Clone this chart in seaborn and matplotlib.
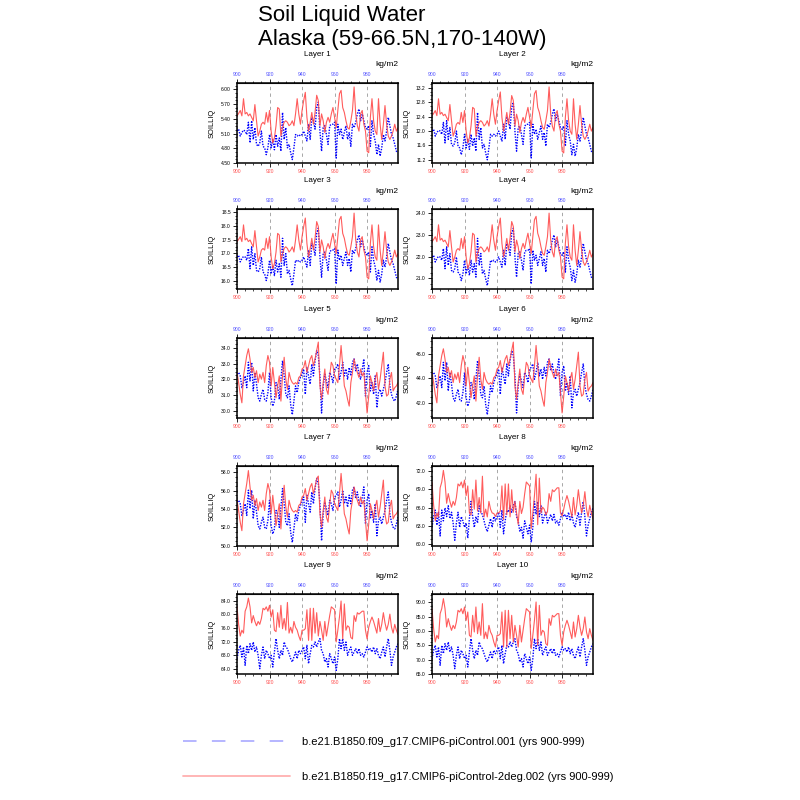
import numpy as np
import pandas as pd
import matplotlib
matplotlib.use('Agg')
import matplotlib.pyplot as plt
import seaborn as sns
from matplotlib.ticker import FixedLocator, MultipleLocator, AutoMinorLocator, FormatStrFormatter
from matplotlib.lines import Line2D

# years 900-999
years = list(range(900, 1000))

# values (kg/m2)
layer1_blue = [5.15, 5.19, 5.05, 5.12, 5.17, 5.15, 5.08, 5.33, 4.91, 5.36,
               4.98, 5.22, 4.88, 4.84, 4.91, 5.15, 4.84, 4.81, 4.67, 4.81,
               5.08, 4.81, 4.98, 4.77, 5.08, 4.84, 5.01, 4.74, 5.53, 4.98,
               5.22, 4.81, 4.88, 4.71, 4.57, 4.81, 5.08, 5.05, 5.08, 5.05,
               5.08, 5.15, 5.05, 4.95, 5.29, 4.98, 5.43, 5.36, 5.19, 5.63,
               5.74, 5.15, 4.74, 5.22, 5.26, 5.08, 4.88, 5.26, 5.29, 5.29,
               5.33, 4.60, 5.29, 5.08, 5.19, 4.98, 5.12, 5.26, 4.98, 5.12,
               4.84, 5.29, 5.22, 5.33, 5.50, 5.60, 5.36, 5.50, 5.36, 5.22,
               5.19, 5.26, 4.84, 5.36, 5.08, 4.95, 4.67, 4.88, 4.64, 4.81,
               5.08, 4.95, 5.15, 5.43, 5.26, 5.08, 5.01, 4.88, 4.74, 4.71]
layer1_red = [5.46, 5.51, 5.57, 5.46, 5.81, 5.50, 5.53, 5.46, 5.50, 5.43,
              5.36, 5.69, 5.36, 5.05, 5.15, 5.29, 5.33, 5.29, 5.53, 5.33,
              5.57, 5.15, 4.91, 5.01, 5.26, 5.63, 5.60, 5.05, 5.22, 5.33,
              5.36, 5.33, 5.26, 5.29, 5.36, 5.26, 5.50, 5.81, 5.50, 5.29,
              5.57, 5.77, 5.94, 5.43, 5.15, 5.33, 5.53, 5.29, 5.53, 5.88,
              5.77, 5.26, 5.50, 5.36, 5.12, 5.33, 5.43, 5.33, 5.50, 5.63,
              5.43, 5.22, 5.57, 5.91, 5.98, 5.63, 5.53, 5.36, 5.22, 5.19,
              5.36, 5.57, 6.05, 5.50, 5.26, 5.15, 5.50, 5.57, 5.29, 5.15,
              4.74, 4.71, 5.43, 5.81, 5.36, 5.15, 5.08, 5.81, 5.29, 4.98,
              5.29, 5.67, 5.29, 5.05, 4.98, 5.05, 5.15, 5.29, 5.15, 5.22]

layer2_blue = [12.00, 12.05, 11.86, 11.96, 12.02, 12.00, 11.91, 12.24, 11.67, 12.29,
               11.77, 12.10, 11.63, 11.58, 11.67, 12.00, 11.58, 11.53, 11.34, 11.53,
               11.91, 11.53, 11.77, 11.49, 11.91, 11.58, 11.81, 11.44, 12.52, 11.77,
               12.10, 11.53, 11.63, 11.39, 11.20, 11.53, 11.91, 11.86, 11.91, 11.86,
               11.91, 12.00, 11.86, 11.72, 12.19, 11.77, 12.38, 12.29, 12.05, 12.66,
               12.80, 12.00, 11.44, 12.10, 12.14, 11.91, 11.63, 12.14, 12.19, 12.19,
               12.24, 11.25, 12.19, 11.91, 12.05, 11.77, 11.96, 12.14, 11.77, 11.96,
               11.58, 12.19, 12.10, 12.24, 12.47, 12.62, 12.29, 12.47, 12.29, 12.10,
               12.05, 12.14, 11.58, 12.29, 11.91, 11.72, 11.34, 11.63, 11.30, 11.53,
               11.91, 11.72, 12.00, 12.38, 12.14, 11.91, 11.81, 11.63, 11.44, 11.39]
layer2_red = [12.43, 12.49, 12.57, 12.43, 12.90, 12.47, 12.52, 12.43, 12.47, 12.38,
              12.29, 12.74, 12.29, 11.86, 12.00, 12.19, 12.24, 12.19, 12.52, 12.24,
              12.57, 12.00, 11.67, 11.81, 12.14, 12.66, 12.62, 11.86, 12.10, 12.24,
              12.29, 12.24, 12.14, 12.19, 12.29, 12.14, 12.47, 12.90, 12.47, 12.19,
              12.57, 12.85, 13.09, 12.38, 12.00, 12.24, 12.52, 12.19, 12.52, 12.99,
              12.85, 12.14, 12.47, 12.29, 11.96, 12.24, 12.38, 12.24, 12.47, 12.66,
              12.38, 12.10, 12.57, 13.04, 13.13, 12.66, 12.52, 12.29, 12.10, 12.05,
              12.29, 12.57, 13.23, 12.47, 12.14, 12.00, 12.47, 12.57, 12.19, 12.00,
              11.44, 11.39, 12.38, 12.90, 12.29, 12.00, 11.91, 12.90, 12.19, 11.77,
              12.19, 12.71, 12.19, 11.86, 11.77, 11.86, 12.00, 12.19, 12.00, 12.10]

layer3_blue = [16.87, 16.93, 16.69, 16.81, 16.89, 16.87, 16.75, 17.18, 16.44, 17.24,
               16.56, 16.99, 16.38, 16.32, 16.44, 16.87, 16.32, 16.25, 16.01, 16.25,
               16.75, 16.25, 16.56, 16.19, 16.75, 16.32, 16.62, 16.13, 17.55, 16.56,
               16.99, 16.25, 16.38, 16.07, 15.82, 16.25, 16.75, 16.69, 16.75, 16.69,
               16.75, 16.87, 16.69, 16.50, 17.12, 16.56, 17.36, 17.24, 16.93, 17.73,
               17.92, 16.87, 16.13, 16.99, 17.05, 16.75, 16.38, 17.05, 17.12, 17.12,
               17.18, 15.88, 17.12, 16.75, 16.93, 16.56, 16.81, 17.05, 16.56, 16.81,
               16.32, 17.12, 16.99, 17.18, 17.49, 17.67, 17.24, 17.49, 17.24, 16.99,
               16.93, 17.05, 16.32, 17.24, 16.75, 16.50, 16.01, 16.38, 15.95, 16.25,
               16.75, 16.50, 16.87, 17.36, 17.05, 16.75, 16.62, 16.38, 16.13, 16.07]
layer3_red = [17.43, 17.51, 17.61, 17.43, 18.04, 17.49, 17.55, 17.43, 17.49, 17.36,
              17.24, 17.83, 17.24, 16.69, 16.87, 17.12, 17.18, 17.12, 17.55, 17.18,
              17.61, 16.87, 16.44, 16.62, 17.05, 17.73, 17.67, 16.69, 16.99, 17.18,
              17.24, 17.18, 17.05, 17.12, 17.24, 17.05, 17.49, 18.04, 17.49, 17.12,
              17.61, 17.98, 18.29, 17.36, 16.87, 17.18, 17.55, 17.12, 17.55, 18.16,
              17.98, 17.05, 17.49, 17.24, 16.81, 17.18, 17.36, 17.18, 17.49, 17.73,
              17.36, 16.99, 17.61, 18.23, 18.35, 17.73, 17.55, 17.24, 16.99, 16.93,
              17.24, 17.61, 18.47, 17.49, 17.05, 16.87, 17.49, 17.61, 17.12, 16.87,
              16.13, 16.07, 17.36, 18.04, 17.24, 16.87, 16.75, 18.04, 17.12, 16.56,
              17.12, 17.79, 17.12, 16.69, 16.56, 16.69, 16.87, 17.12, 16.87, 16.99]

layer4_blue = [21.98, 22.06, 21.75, 21.91, 22.01, 21.98, 21.83, 22.37, 21.44, 22.45,
               21.59, 22.14, 21.36, 21.28, 21.44, 21.98, 21.28, 21.20, 20.89, 21.20,
               21.83, 21.20, 21.59, 21.13, 21.83, 21.28, 21.67, 21.05, 22.84, 21.59,
               22.14, 21.20, 21.36, 20.97, 20.66, 21.20, 21.83, 21.75, 21.83, 21.75,
               21.83, 21.98, 21.75, 21.51, 22.29, 21.59, 22.61, 22.45, 22.06, 23.08,
               23.31, 21.98, 21.05, 22.14, 22.22, 21.83, 21.36, 22.22, 22.29, 22.29,
               22.37, 20.73, 22.29, 21.83, 22.06, 21.59, 21.91, 22.22, 21.59, 21.91,
               21.28, 22.29, 22.14, 22.37, 22.76, 23.00, 22.45, 22.76, 22.45, 22.14,
               22.06, 22.22, 21.28, 22.45, 21.83, 21.51, 20.89, 21.36, 20.81, 21.20,
               21.83, 21.51, 21.98, 22.61, 22.22, 21.83, 21.67, 21.36, 21.05, 20.97]
layer4_red = [22.69, 22.79, 22.92, 22.69, 23.47, 22.76, 22.84, 22.69, 22.76, 22.61,
              22.45, 23.20, 22.45, 21.75, 21.98, 22.29, 22.37, 22.29, 22.84, 22.37,
              22.92, 21.98, 21.44, 21.67, 22.22, 23.08, 23.00, 21.75, 22.14, 22.37,
              22.45, 22.37, 22.22, 22.29, 22.45, 22.22, 22.76, 23.47, 22.76, 22.29,
              22.92, 23.39, 23.78, 22.61, 21.98, 22.37, 22.84, 22.29, 22.84, 23.62,
              23.39, 22.22, 22.76, 22.45, 21.91, 22.37, 22.61, 22.37, 22.76, 23.08,
              22.61, 22.14, 22.92, 23.70, 23.86, 23.08, 22.84, 22.45, 22.14, 22.06,
              22.45, 22.92, 24.01, 22.76, 22.22, 21.98, 22.76, 22.92, 22.29, 21.98,
              21.05, 20.97, 22.61, 23.47, 22.45, 21.98, 21.83, 23.47, 22.29, 21.59,
              22.29, 23.15, 22.29, 21.75, 21.59, 21.75, 21.98, 22.29, 21.98, 22.14]

layer5_blue = [32.33, 32.44, 32.22, 31.47, 31.79, 32.22, 31.47, 33.09, 31.90, 33.09,
               31.26, 32.44, 31.69, 30.82, 30.61, 31.04, 31.36, 30.72, 30.61, 31.15,
               32.44, 30.82, 30.29, 30.61, 31.79, 31.58, 30.72, 32.01, 33.19, 32.22,
               31.04, 30.82, 31.58, 30.39, 29.74, 30.61, 31.58, 31.15, 31.79, 32.12,
               32.33, 32.66, 31.04, 32.76, 32.22, 31.69, 32.98, 32.22, 33.19, 33.84,
               33.52, 32.22, 29.85, 31.58, 32.33, 31.90, 31.47, 32.44, 32.22, 31.79,
               32.66, 32.76, 32.98, 32.01, 32.44, 33.09, 32.22, 32.66, 32.01, 32.76,
               32.22, 33.09, 33.30, 32.55, 32.98, 32.33, 32.01, 32.66, 33.30, 30.93,
               32.44, 32.87, 31.26, 31.79, 31.04, 32.22, 30.18, 31.15, 31.36, 30.93,
               31.36, 31.79, 32.44, 32.98, 31.58, 31.04, 30.72, 30.61, 30.93, 31.36]
layer5_red = [32.44, 31.79, 31.04, 30.50, 32.22, 32.87, 33.52, 33.95, 33.30, 32.44,
              32.76, 32.12, 32.55, 31.79, 32.33, 32.01, 32.44, 31.79, 32.87, 33.52,
              33.09, 31.58, 32.76, 31.79, 30.82, 31.58, 32.22, 30.61, 32.22, 33.41,
              32.01, 31.36, 32.44, 32.01, 31.79, 31.69, 31.79, 31.69, 32.12, 32.22,
              32.66, 32.76, 33.19, 32.44, 32.87, 33.30, 33.52, 32.87, 33.30, 33.84,
              34.38, 31.58, 30.72, 31.79, 32.66, 31.36, 31.04, 32.22, 33.09, 32.87,
              32.22, 32.01, 31.79, 32.87, 34.16, 32.87, 31.58, 31.26, 30.72, 30.29,
              31.79, 32.44, 33.30, 32.76, 32.44, 32.12, 32.66, 32.22, 32.44, 31.15,
              29.85, 30.93, 32.22, 31.79, 31.26, 32.01, 32.44, 31.36, 32.01, 32.87,
              33.73, 31.58, 30.93, 31.04, 32.01, 32.44, 31.26, 31.47, 31.58, 31.79]

layer6_blue = [44.36, 44.49, 44.21, 43.27, 43.67, 44.21, 43.27, 45.30, 43.81, 45.30,
               42.99, 44.49, 43.54, 42.45, 42.18, 42.72, 43.13, 42.31, 42.18, 42.86,
               44.49, 42.45, 41.77, 42.18, 43.67, 43.40, 42.31, 43.94, 45.44, 44.21,
               42.72, 42.45, 43.40, 41.91, 41.09, 42.18, 43.40, 42.86, 43.67, 44.08,
               44.36, 44.76, 42.72, 44.90, 44.21, 43.54, 45.17, 44.21, 45.44, 46.26,
               45.85, 44.21, 41.23, 43.40, 44.36, 43.81, 43.27, 44.49, 44.21, 43.67,
               44.76, 44.90, 45.17, 43.94, 44.49, 45.30, 44.21, 44.76, 43.94, 44.90,
               44.21, 45.30, 45.57, 44.63, 45.17, 44.36, 43.94, 44.76, 45.57, 42.58,
               44.49, 45.03, 42.99, 43.67, 42.72, 44.21, 41.64, 42.86, 43.13, 42.58,
               43.13, 43.67, 44.49, 45.17, 43.40, 42.72, 42.31, 42.18, 42.58, 43.13]
layer6_red = [44.49, 43.67, 42.72, 42.04, 44.21, 45.03, 45.85, 46.39, 45.57, 44.49,
              44.90, 44.08, 44.63, 43.67, 44.36, 43.94, 44.49, 43.67, 45.03, 45.85,
              45.30, 43.40, 44.90, 43.67, 42.45, 43.40, 44.21, 42.18, 44.21, 45.71,
              43.94, 43.13, 44.49, 43.94, 43.67, 43.54, 43.67, 43.54, 44.08, 44.21,
              44.76, 44.90, 45.44, 44.49, 45.03, 45.57, 45.85, 45.03, 45.57, 46.26,
              46.93, 43.40, 42.31, 43.67, 44.76, 43.13, 42.72, 44.21, 45.30, 45.03,
              44.21, 43.94, 43.67, 45.03, 46.66, 45.03, 43.40, 42.99, 42.31, 41.77,
              43.67, 44.49, 45.57, 44.90, 44.49, 44.08, 44.76, 44.21, 44.49, 42.86,
              41.23, 42.58, 44.21, 43.67, 42.99, 43.94, 44.49, 43.13, 43.94, 45.03,
              46.12, 43.40, 42.58, 42.72, 43.94, 44.49, 42.99, 43.27, 43.40, 43.67]

layer7_blue = [54.78, 54.96, 54.58, 53.31, 53.85, 54.58, 53.31, 56.06, 54.04, 56.06,
               52.94, 54.96, 53.67, 52.20, 51.84, 52.57, 53.12, 52.02, 51.84, 52.75,
               54.96, 52.20, 51.29, 51.84, 53.85, 53.49, 52.02, 54.22, 56.24, 54.58,
               52.57, 52.20, 53.49, 51.47, 50.37, 51.84, 53.49, 52.75, 53.85, 54.40,
               54.78, 55.32, 52.57, 55.51, 54.58, 53.67, 55.87, 54.58, 56.24, 57.34,
               56.79, 54.58, 50.55, 53.49, 54.78, 54.04, 53.31, 54.96, 54.58, 53.85,
               55.32, 55.51, 55.87, 54.22, 54.96, 56.06, 54.58, 55.32, 54.22, 55.51,
               54.58, 56.06, 56.42, 55.14, 55.87, 54.78, 54.22, 55.32, 56.42, 52.38,
               54.96, 55.69, 52.94, 53.85, 52.57, 54.58, 51.10, 52.75, 53.12, 52.38,
               53.12, 53.85, 54.96, 55.87, 53.49, 52.57, 52.02, 51.84, 52.38, 53.12]
layer7_red = [54.96, 53.85, 52.57, 51.65, 54.58, 55.69, 56.79, 58.20, 56.42, 54.96,
              55.51, 54.40, 55.14, 53.85, 54.78, 54.22, 54.96, 53.85, 55.69, 56.79,
              56.06, 53.49, 55.51, 53.85, 52.20, 53.49, 54.58, 51.84, 54.58, 56.60,
              54.22, 53.12, 54.96, 54.22, 53.85, 53.67, 53.85, 53.67, 54.40, 54.58,
              55.32, 55.51, 56.24, 54.96, 55.69, 56.42, 56.79, 55.69, 56.42, 57.34,
              57.60, 53.49, 52.02, 53.85, 55.32, 53.12, 52.57, 54.58, 56.06, 55.69,
              54.58, 54.22, 53.85, 55.69, 57.89, 55.69, 53.49, 52.94, 52.02, 51.29,
              53.85, 54.96, 56.42, 55.51, 54.96, 54.40, 55.32, 54.58, 54.96, 52.75,
              50.55, 52.38, 54.58, 53.85, 52.94, 54.22, 54.96, 53.12, 54.22, 55.69,
              57.16, 53.49, 52.38, 52.57, 54.22, 54.96, 52.94, 53.31, 53.49, 53.85]

layer8_blue = [62.70, 64.49, 65.57, 63.06, 65.21, 61.27, 65.57, 63.78, 65.93, 64.49,
               66.28, 64.14, 65.21, 63.42, 60.56, 63.42, 65.21, 62.70, 64.49, 63.78,
               62.70, 63.42, 60.91, 64.14, 67.00, 64.49, 62.70, 64.49, 63.42, 66.28,
               65.21, 64.85, 63.78, 62.70, 61.99, 63.06, 64.14, 62.70, 64.49, 63.78,
               64.49, 65.21, 62.70, 65.57, 61.63, 63.78, 65.57, 65.21, 66.28, 65.21,
               66.28, 67.00, 64.49, 63.78, 61.99, 62.70, 60.91, 63.78, 62.70, 61.63,
               63.06, 60.20, 62.70, 67.00, 64.85, 67.00, 64.49, 66.28, 63.42, 64.49,
               65.21, 63.42, 64.14, 64.85, 63.78, 64.85, 63.42, 63.78, 63.06, 64.14,
               65.21, 64.49, 64.85, 64.14, 65.21, 63.78, 64.85, 63.42, 62.70, 64.14,
               65.21, 63.06, 65.21, 67.00, 64.49, 61.27, 63.06, 64.14, 65.21, 65.93]
layer8_red = [70.24, 66.37, 63.80, 65.09, 64.44, 69.27, 70.24, 72.17, 70.24, 66.70,
              68.31, 67.02, 66.05, 67.02, 66.37, 67.66, 69.92, 69.59, 70.24, 69.27,
              70.56, 67.98, 69.59, 65.09, 64.76, 68.95, 65.73, 70.56, 65.41, 67.66,
              65.09, 71.20, 64.44, 65.73, 64.44, 67.02, 65.73, 65.09, 65.00, 64.50,
              65.09, 65.09, 65.41, 69.59, 64.00, 69.92, 64.80, 69.92, 64.44, 68.95,
              65.20, 67.02, 65.09, 63.20, 67.02, 65.00, 66.05, 68.31, 70.24, 69.92,
              69.59, 62.51, 65.09, 67.98, 71.53, 63.15, 70.88, 65.09, 66.05, 65.73,
              64.80, 65.30, 68.31, 67.02, 68.95, 68.63, 68.95, 69.27, 69.27, 65.09,
              64.60, 65.73, 67.02, 67.98, 67.02, 65.73, 64.44, 67.66, 64.76, 66.37,
              68.95, 66.70, 65.09, 66.37, 68.63, 65.73, 64.44, 66.37, 65.09, 64.12]

layer9_blue = [67.06, 69.49, 70.95, 67.55, 70.46, 65.12, 70.95, 68.52, 71.43, 69.49,
               71.92, 69.00, 70.46, 68.03, 64.15, 68.03, 70.46, 67.06, 69.49, 68.52,
               67.06, 68.03, 64.64, 69.00, 72.89, 69.49, 67.06, 69.49, 68.03, 71.92,
               70.46, 69.98, 68.52, 67.06, 66.09, 67.55, 69.00, 67.06, 69.49, 68.52,
               69.49, 70.46, 67.06, 70.95, 65.61, 68.52, 70.95, 70.46, 71.92, 70.46,
               71.92, 72.89, 69.49, 68.52, 66.09, 67.06, 64.64, 68.52, 67.06, 65.61,
               67.55, 63.66, 67.06, 72.89, 69.98, 72.89, 69.49, 71.92, 68.03, 69.49,
               70.46, 68.03, 69.00, 69.98, 68.52, 69.98, 68.03, 68.52, 67.55, 69.00,
               70.46, 69.49, 69.98, 69.00, 70.46, 68.52, 69.98, 68.03, 67.06, 69.00,
               70.46, 67.55, 70.46, 72.89, 69.49, 65.12, 67.55, 69.00, 70.46, 71.43]
layer9_red = [82.16, 77.06, 73.66, 75.36, 74.51, 80.89, 82.16, 84.71, 82.16, 77.49,
              79.61, 77.91, 76.64, 77.91, 77.06, 78.76, 81.74, 81.31, 82.16, 80.89,
              82.59, 79.19, 81.31, 75.36, 74.94, 80.46, 76.21, 82.59, 75.79, 78.76,
              75.36, 83.44, 74.51, 76.21, 74.51, 77.91, 76.21, 75.36, 73.66, 72.39,
              75.36, 75.36, 75.79, 81.31, 72.39, 81.74, 72.39, 81.74, 74.51, 80.46,
              73.66, 77.91, 75.36, 72.39, 77.91, 73.66, 76.64, 79.61, 82.16, 81.74,
              81.31, 71.96, 75.36, 79.19, 83.86, 72.81, 83.01, 75.36, 76.64, 76.21,
              73.24, 72.81, 79.61, 77.91, 80.46, 80.04, 80.46, 80.89, 80.89, 75.36,
              72.81, 76.21, 77.91, 79.19, 77.91, 76.21, 74.51, 78.76, 74.94, 77.06,
              80.46, 77.49, 75.36, 77.06, 80.04, 76.21, 74.51, 77.06, 75.36, 74.09]

layer10_blue = [70.35, 73.25, 75.00, 70.93, 74.42, 68.02, 75.00, 72.09, 75.58, 73.25,
                76.16, 72.67, 74.42, 71.51, 66.86, 71.51, 74.42, 70.35, 73.25, 72.09,
                70.35, 71.51, 67.44, 72.67, 77.32, 73.25, 70.35, 73.25, 71.51, 76.16,
                74.42, 73.84, 72.09, 70.35, 69.19, 70.93, 72.67, 70.35, 73.25, 72.09,
                73.25, 74.42, 70.35, 75.00, 68.60, 72.09, 75.00, 74.42, 76.16, 74.42,
                76.16, 77.32, 73.25, 72.09, 69.19, 70.35, 67.44, 72.09, 70.35, 68.60,
                70.93, 66.28, 70.35, 77.32, 73.84, 77.32, 73.25, 76.16, 71.51, 73.25,
                74.42, 71.51, 72.67, 73.84, 72.09, 73.84, 71.51, 72.09, 70.93, 72.67,
                74.42, 73.25, 73.84, 72.67, 74.42, 72.09, 73.84, 71.51, 70.35, 72.67,
                74.42, 70.93, 74.42, 77.32, 73.25, 68.02, 70.93, 72.67, 74.42, 75.58]
layer10_red = [87.79, 80.81, 76.16, 78.49, 77.32, 86.04, 87.79, 91.27, 87.79, 81.39,
               84.30, 81.97, 80.23, 81.97, 80.81, 83.14, 87.20, 86.62, 87.79, 86.04,
               88.37, 83.72, 86.62, 78.49, 77.90, 85.46, 79.65, 88.37, 79.07, 83.14,
               78.49, 89.53, 77.32, 79.65, 77.32, 81.97, 79.65, 78.49, 76.16, 74.42,
               78.49, 78.49, 79.07, 86.62, 74.42, 87.20, 74.42, 87.20, 77.32, 85.46,
               76.16, 81.97, 78.49, 74.42, 81.97, 76.16, 80.23, 84.30, 87.79, 87.20,
               86.62, 73.84, 78.49, 83.72, 90.11, 75.00, 88.95, 78.49, 80.23, 79.65,
               75.58, 75.00, 84.30, 81.97, 85.46, 84.88, 85.46, 86.04, 86.04, 78.49,
               75.00, 79.65, 81.97, 83.72, 81.97, 79.65, 77.32, 83.14, 77.90, 80.81,
               85.46, 81.39, 78.49, 80.81, 84.88, 79.65, 77.32, 80.81, 78.49, 76.74]

blue_series = [layer1_blue, layer2_blue, layer3_blue, layer4_blue, layer5_blue,
               layer6_blue, layer7_blue, layer8_blue, layer9_blue, layer10_blue]
red_series = [layer1_red, layer2_red, layer3_red, layer4_red, layer5_red,
              layer6_red, layer7_red, layer8_red, layer9_red, layer10_red]

# y axis range and tick spacing of each panel
y_ranges = [(4.50, 6.13), (11.11, 13.34), (15.70, 18.62), (20.50, 24.20), (29.53, 34.64),
            (40.82, 47.26), (49.98, 58.70), (59.60, 72.90), (62.60, 85.90), (65.00, 92.90)]
y_steps = [0.3, 0.4, 0.5, 1.0, 1.0, 2.0, 2.0, 3.0, 4.0, 5.0]
y_formats = ['%.2f'] + ['%.1f'] * 9

x_ticks = [900, 920, 940, 960, 980]

legend_labels = ['b.e21.B1850.f09_g17.CMIP6-piControl.001 (yrs 900-999)',
                 'b.e21.B1850.f19_g17.CMIP6-piControl-2deg.002 (yrs 900-999)']

sns.set_style('ticks')
plt.rcParams['font.family'] = ['Liberation Sans', 'DejaVu Sans']
plt.rcParams['text.color'] = 'black'
plt.rcParams['axes.labelcolor'] = 'black'
plt.rcParams['xtick.color'] = 'black'
plt.rcParams['ytick.color'] = 'black'

RED = '#ff4a4a'
BLUE = '#0000ff'

fig = plt.figure(figsize=(8, 8), dpi=100)

col_left = [237, 432]
row_top = [83, 209, 338, 466, 594]
W, H = 161, 80

for i in range(10):
    row, col = i // 2, i % 2
    ax = fig.add_axes([col_left[col] / 800, 1 - (row_top[row] + H) / 800, W / 800, H / 800])
    df = pd.DataFrame({'year': years, 'blue': blue_series[i], 'red': red_series[i]})
    sns.lineplot(data=df, x='year', y='blue', ax=ax, color=BLUE, lw=1.0,
                 linestyle=(0, (1, 1)))
    sns.lineplot(data=df, x='year', y='red', ax=ax, color=RED, lw=0.8, alpha=0.9)

    ax.set_xlim(900, 999)
    ax.set_ylim(*y_ranges[i])
    ax.xaxis.set_major_locator(FixedLocator(x_ticks))
    ax.xaxis.set_minor_locator(MultipleLocator(5))
    ax.yaxis.set_major_locator(MultipleLocator(y_steps[i]))
    ax.yaxis.set_minor_locator(AutoMinorLocator(4))
    ax.yaxis.set_major_formatter(FormatStrFormatter(y_formats[i]))
    ax.grid(True, axis='x', which='major', color='#999999', ls=(0, (4, 4)), lw=0.6)
    ax.tick_params(axis='both', which='major', direction='out', length=3, width=0.6,
                   labelsize=3.6, pad=1.5)
    ax.tick_params(axis='both', which='minor', direction='out', length=1.6, width=0.5)
    ax.tick_params(axis='x', labelcolor='#ff5050')
    for sp in ax.spines.values():
        sp.set_linewidth(1.1)
        sp.set_color('black')

    top = ax.secondary_xaxis('top')
    top.set_xticks(x_ticks)
    top.xaxis.set_minor_locator(MultipleLocator(5))
    top.tick_params(axis='x', which='major', direction='out', length=3, width=0.6,
                    labelsize=3.6, pad=1.5, labelcolor='#5050ff')
    top.tick_params(axis='x', which='minor', direction='out', length=1.6, width=0.5)

    ax.set_xlabel('')
    ax.set_ylabel('SOILLIQ', fontsize=5.4)
    ax.yaxis.set_label_coords(-0.135, 0.5)
    ax.text(0.5, 1.36, f'Layer {i + 1}', transform=ax.transAxes, ha='center',
            va='center', fontsize=5.8)
    ax.text(1.0, 1.225, 'kg/m2', transform=ax.transAxes, ha='right',
            va='center', fontsize=6)

fig.text(258 / 800, 1 - 21 / 800, 'Soil Liquid Water', fontsize=16, va='baseline')
fig.text(258 / 800, 1 - 45 / 800, 'Alaska (59-66.5N,170-140W)', fontsize=16, va='baseline')

handles = [Line2D([], [], color='#b0b0ff', lw=1.3, dashes=(7.5, 8.5)),
           Line2D([], [], color='#ffb0b0', lw=1.3)]
fig.legend(handles, legend_labels, loc='upper left', frameon=False, fontsize=8,
           bbox_to_anchor=(183 / 800, 1 - 737 / 800), borderpad=0, borderaxespad=0,
           handlelength=9.6, handletextpad=1.15, labelspacing=2.25)

fig.savefig('out.png', dpi=100)
